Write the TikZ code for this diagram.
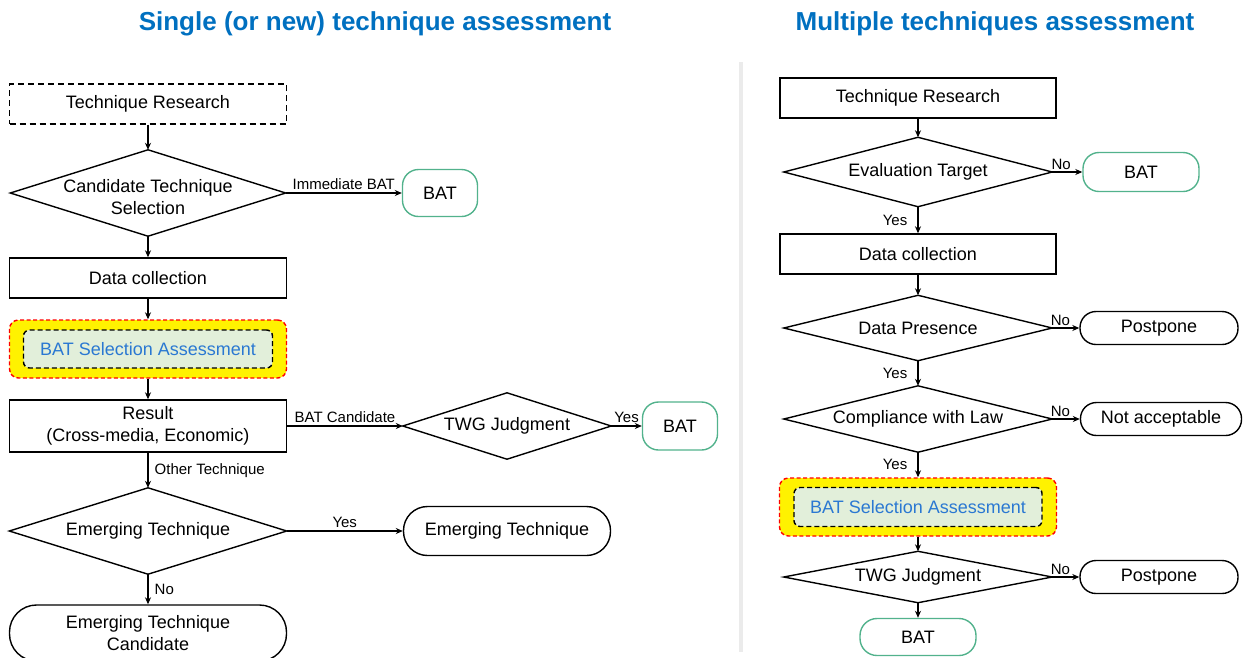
\documentclass[tikz,border=0pt]{standalone}
\usepackage{fontspec}
\setmainfont{Liberation Sans}
\usetikzlibrary{arrows.meta}

\definecolor{titleblue}{RGB}{0,112,192}
\definecolor{batgreen}{RGB}{82,178,140}
\definecolor{assessblue}{RGB}{42,120,210}
\definecolor{assessfill}{RGB}{226,239,218}
\definecolor{dividergray}{RGB}{235,235,235}

% outline of a decision node: a diamond through the four side anchors
\newcommand\decisionshape[1]{\draw[line width=1.4pt] (#1.north) -- (#1.east) -- (#1.south) -- (#1.west) -- cycle;}

\begin{document}
\begin{tikzpicture}[x=1pt,y=-1pt,
  every node/.style={font=\fontsize{18}{22}\selectfont, inner sep=0pt, align=center},
  box/.style={draw, line width=1.4pt, minimum width=277pt, minimum height=40pt},
  dashbox/.style={box, dash pattern=on 6pt off 4pt},
  decision/.style={rectangle},
  terminal/.style={draw, line width=1.4pt},
  batbox/.style={draw=batgreen, line width=1.4pt, rounded corners=16pt},
  outerbsa/.style={fill=yellow, draw=red, line width=1.4pt, dash pattern=on 4pt off 2.5pt,
                   rounded corners=9pt, minimum width=277pt, minimum height=58pt},
  innerbsa/.style={fill=assessfill, draw=black, line width=1.4pt, dash pattern=on 5pt off 3pt,
                   rounded corners=6pt, text=assessblue, minimum width=249pt, minimum height=38pt},
  arr/.style={-{Stealth[length=7pt,width=6pt]}, line width=1.4pt},
  lbl/.style={font=\fontsize{15}{18}\selectfont},
  heading/.style={font=\bfseries\fontsize{26}{30}\selectfont, text=titleblue}
]
\useasboundingbox (0,0) rectangle (1245,657);

% headings and column separator
\node[heading] (ltitle) at (375,24) {Single (or new) technique assessment};
\node[heading] (rtitle) at (995,24) {Multiple techniques assessment};
\draw[dividergray, line width=4pt] (741,62) -- (741,652);

% ---------------- left column: single technique ----------------
\node[dashbox] (lres) at (148,104) {Technique Research};
\node[decision, minimum width=275pt, minimum height=86pt] (lcand) at (148,193) {};
\node (lcandtext) at (148,197) {Candidate Technique\\Selection};
\decisionshape{lcand}
\node[batbox, minimum width=75pt, minimum height=47pt] (lbat1) at (440,193) {BAT};
\node[box] (ldata) at (148,278) {Data collection};
\node[outerbsa] (lbsa) at (148,349) {};
\node[innerbsa] (lbsain) at (148,349) {BAT Selection Assessment};
\node[box, minimum height=52pt] (lresult) at (148,426) {Result\\(Cross-media, Economic)};
\node[decision, minimum width=208pt, minimum height=66pt] (ltwg) at (507,426) {TWG Judgment};
\decisionshape{ltwg}
\node[batbox, minimum width=75pt, minimum height=48pt] (lbat2) at (680,426) {BAT};
\node[decision, minimum width=277pt, minimum height=86pt] (lemd) at (148,531) {Emerging Technique};
\decisionshape{lemd}
\node[terminal, rounded corners=24pt, minimum width=207pt, minimum height=49pt] (lemt) at (507,531) {Emerging Technique};
\node[terminal, rounded corners=27pt, minimum width=277pt, minimum height=56pt] (lemc) at (148,633) {Emerging Technique\\Candidate};

\draw[arr] (lres) -- (lcand.north);
\draw[arr] (lcand.east) -- node[lbl, above=3pt] (limm) {Immediate BAT} (lbat1);
\draw[arr] (lcand.south) -- (ldata);
\draw[arr] (ldata) -- (lbsa);
\draw[arr] (lbsa) -- (lresult);
\draw[arr] (lresult.east) -- node[lbl, above=3pt] (lcandlbl) {BAT Candidate} (ltwg.west);
\draw[arr] (ltwg.east) -- node[lbl, above=3pt] (lyes1) {Yes} (lbat2);
\draw[arr] (lresult) -- node[lbl, right=6pt] (lother) {Other Technique} (lemd.north);
\draw[arr] (lemd.east) -- node[lbl, above=3pt] (lyes2) {Yes} (lemt);
\draw[arr] (lemd.south) -- node[lbl, right=6pt] (lno) {No} (lemc);

% ---------------- right column: multiple techniques ----------------
\node[box, minimum width=276pt] (rres) at (918,98) {Technique Research};
\node[decision, minimum width=268pt, minimum height=69pt] (reval) at (918,172) {Evaluation Target};
\decisionshape{reval}
\node[batbox, minimum width=116pt, minimum height=39pt] (rbat1) at (1141,172) {BAT};
\node[box, minimum width=276pt] (rdata) at (918,254) {Data collection};
\node[decision, minimum width=268pt, minimum height=65pt] (rpres) at (918,328) {Data Presence};
\decisionshape{rpres}
\node[terminal, rounded corners=16pt, minimum width=158pt, minimum height=33pt] (rpost1) at (1159,328) {Postpone};
\node[decision, minimum width=268pt, minimum height=66pt] (rlaw) at (918,419) {Compliance with Law};
\decisionshape{rlaw}
\node[terminal, rounded corners=16pt, minimum width=161pt, minimum height=33pt] (rnot) at (1161,419) {Not acceptable};
\node[outerbsa] (rbsa) at (918,507) {};
\node[innerbsa, minimum width=248pt, minimum height=39pt] (rbsain) at (918,507) {BAT Selection Assessment};
\node[decision, minimum width=268pt, minimum height=51pt] (rtwg) at (918,577) {TWG Judgment};
\decisionshape{rtwg}
\node[terminal, rounded corners=16pt, minimum width=158pt, minimum height=33pt] (rpost2) at (1159,577) {Postpone};
\node[batbox, rounded corners=17pt, minimum width=116pt, minimum height=37pt] (rbat2) at (918,637) {BAT};

\draw[arr] (rres) -- (reval.north);
\draw[arr] (reval.east) -- node[lbl, above=2pt, pos=0.3] (rno1) {No} (rbat1);
\draw[arr] (reval.south) -- node[lbl, left=10pt] (ryes1) {Yes} (rdata);
\draw[arr] (rdata) -- (rpres.north);
\draw[arr] (rpres.east) -- node[lbl, above=2pt, pos=0.3] (rno2) {No} (rpost1);
\draw[arr] (rpres.south) -- node[lbl, left=10pt] (ryes2) {Yes} (rlaw.north);
\draw[arr] (rlaw.east) -- node[lbl, above=2pt, pos=0.3] (rno3) {No} (rnot);
\draw[arr] (rlaw.south) -- node[lbl, left=10pt] (ryes3) {Yes} (rbsa);
\draw[arr] (rbsa) -- (rtwg.north);
\draw[arr] (rtwg.east) -- node[lbl, above=2pt, pos=0.3] (rno4) {No} (rpost2);
\draw[arr] (rtwg.south) -- (rbat2);
\end{tikzpicture}
\end{document}
